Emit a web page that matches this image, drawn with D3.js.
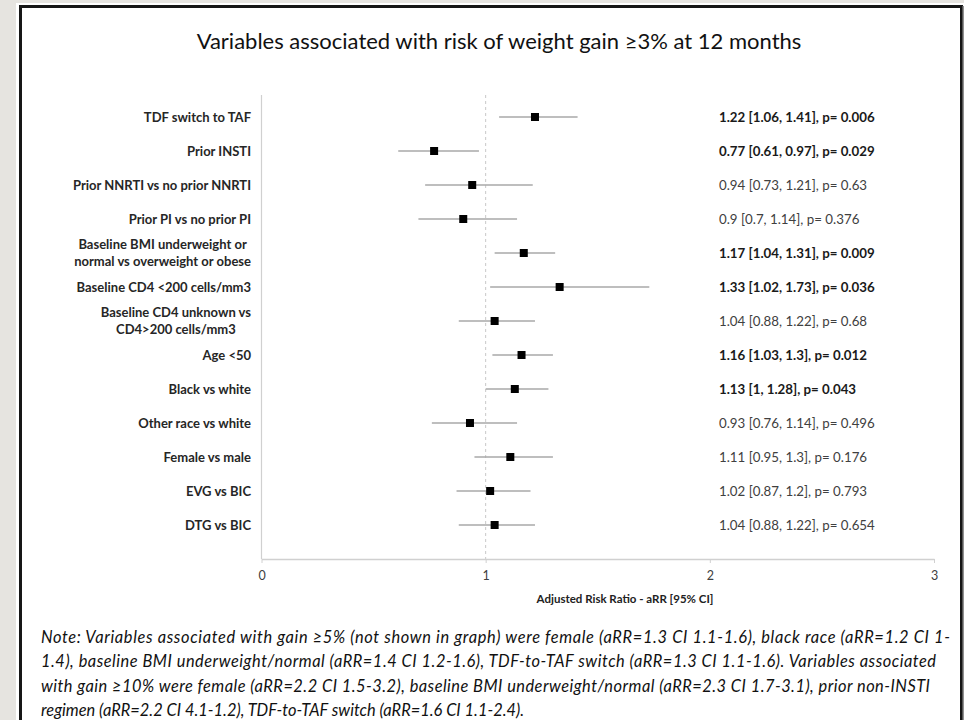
<!DOCTYPE html>
<html>
<head>
<meta charset="utf-8">
<script src="https://cdn.jsdelivr.net/npm/d3@7"></script>
<style>
  html, body { margin: 0; padding: 0; background: #e6e4e0; }
  svg { display: block; }
  text { font-family: Lato, "Liberation Sans", sans-serif; }
</style>
</head>
<body>
<svg id="chart" width="964" height="720"></svg>
<script>
// Forest plot rows, top to bottom ("|" marks a line break in the label)
const labels = [
  "TDF switch to TAF",
  "Prior INSTI",
  "Prior NNRTI vs no prior NNRTI",
  "Prior PI vs no prior PI",
  "Baseline BMI underweight or|normal vs overweight or obese",
  "Baseline CD4 <200 cells/mm3",
  "Baseline CD4 unknown vs|CD4>200 cells/mm3",
  "Age <50",
  "Black vs white",
  "Other race vs white",
  "Female vs male",
  "EVG vs BIC",
  "DTG vs BIC"
];
const estimates = [1.22, 0.77, 0.94, 0.9, 1.17, 1.33, 1.04, 1.16, 1.13, 0.93, 1.11, 1.02, 1.04];
const lower     = [1.06, 0.61, 0.73, 0.7, 1.04, 1.02, 0.88, 1.03, 1,    0.76, 0.95, 0.87, 0.88];
const upper     = [1.41, 0.97, 1.21, 1.14, 1.31, 1.73, 1.22, 1.3, 1.28, 1.14, 1.3,  1.2,  1.22];
const pValues   = [0.006, 0.029, 0.63, 0.376, 0.009, 0.036, 0.68, 0.012, 0.043, 0.496, 0.176, 0.793, 0.654];
const xTicks = [0, 1, 2, 3];

const titleText = "Variables associated with risk of weight gain \u22653% at 12 months";
const axisTitle = "Adjusted Risk Ratio - aRR [95% CI]";
const noteLines = [
  "Note: Variables associated with gain \u22655% (not shown in graph) were female (aRR=1.3 CI 1.1-1.6), black race (aRR=1.2 CI 1-",
  "1.4), baseline BMI underweight/normal (aRR=1.4 CI 1.2-1.6), TDF-to-TAF switch (aRR=1.3 CI 1.1-1.6). Variables associated",
  "with gain \u226510% were female (aRR=2.2 CI 1.5-3.2), baseline BMI underweight/normal (aRR=2.3 CI 1.7-3.1), prior non-INSTI",
  "regimen (aRR=2.2 CI 4.1-1.2), TDF-to-TAF switch (aRR=1.6 CI 1.1-2.4)."
];

const rows = labels.map((l, i) => ({
  label: l, est: estimates[i], lo: lower[i], hi: upper[i], p: pValues[i]
}));

const svg = d3.select("#chart");

// Slide panel with dark frame
svg.append("rect").attr("x", 0).attr("y", 0).attr("width", 964).attr("height", 720).attr("fill", "#e6e4e0");
svg.append("rect").attr("x", 16).attr("y", 3).attr("width", 960).attr("height", 740).attr("fill", "#ffffff");
svg.append("rect").attr("x", 20.5).attr("y", 6.5).attr("width", 941).attr("height", 740)
  .attr("fill", "#ffffff").attr("stroke", "#161616").attr("stroke-width", 3);
svg.append("line").attr("x1", 963).attr("x2", 963).attr("y1", 6).attr("y2", 720)
  .attr("stroke", "#6e6e6e").attr("stroke-width", 1.5);

const x = d3.scaleLinear().domain([0, 3]).range([261.5, 934]);
const y = d3.scalePoint().domain(d3.range(rows.length)).range([117, 525]);
const plotTop = 95, plotBottom = 559;

// Title
svg.append("text").attr("x", 499).attr("y", 49).attr("text-anchor", "middle")
  .attr("font-size", 22).attr("fill", "#111").text(titleText);

// Reference line at aRR = 1
svg.append("line").attr("x1", x(1)).attr("x2", x(1)).attr("y1", plotTop).attr("y2", plotBottom)
  .attr("stroke", "#c8c8c8").attr("stroke-width", 1).attr("stroke-dasharray", "3,3");

// Left axis line
svg.append("line").attr("x1", x(0)).attr("x2", x(0)).attr("y1", plotTop).attr("y2", plotBottom)
  .attr("stroke", "#d0d0d0").attr("stroke-width", 1.2);

// X axis
const xAxis = svg.append("g").attr("transform", `translate(0,${plotBottom})`)
  .call(d3.axisBottom(x).tickValues(xTicks).tickFormat(d3.format("d")).tickSize(4).tickSizeOuter(0));
xAxis.select(".domain").attr("stroke", "#d0d0d0").attr("stroke-width", 1.5);
xAxis.selectAll(".tick line").attr("stroke", "#d0d0d0");
xAxis.selectAll(".tick text").attr("font-size", 12.5).attr("fill", "#404040")
  .attr("font-family", "Lato, sans-serif").attr("dy", "1.1em");

svg.append("text").attr("x", 625).attr("y", 603).attr("text-anchor", "middle")
  .attr("font-size", 11.5).attr("font-weight", "bold").attr("fill", "#222").text(axisTitle);

// Row labels (multi-line labels are centred within their block, block right-aligned)
const labelRight = 251;
rows.forEach((r, i) => {
  const lines = r.label.split("|");
  if (lines.length === 1) {
    svg.append("text").attr("x", labelRight).attr("y", y(i)).attr("dy", "0.35em")
      .attr("text-anchor", "end").attr("font-size", 13).attr("font-weight", "bold")
      .attr("fill", "#262626").text(lines[0]);
  } else {
    const g = svg.append("g");
    const t = lines.map((ln, k) => g.append("text")
      .attr("y", y(i) + (k - (lines.length - 1) / 2) * 17).attr("dy", "0.35em")
      .attr("text-anchor", "middle").attr("font-size", 13).attr("font-weight", "bold")
      .attr("fill", "#262626").text(ln));
    const w = d3.max(t, s => s.node().getComputedTextLength());
    t.forEach(s => s.attr("x", labelRight - w / 2));
  }
});

// Confidence intervals
svg.append("g").selectAll("line").data(rows).join("line")
  .attr("x1", d => x(d.lo)).attr("x2", d => x(d.hi))
  .attr("y1", (d, i) => y(i)).attr("y2", (d, i) => y(i))
  .attr("stroke", "#a8a8a8").attr("stroke-width", 1.5);

// Point estimates
const sq = 8;
svg.append("g").selectAll("rect").data(rows).join("rect")
  .attr("x", d => x(d.est) - sq / 2).attr("y", (d, i) => y(i) - sq / 2)
  .attr("width", sq).attr("height", sq).attr("fill", "#000");

// Value annotations, bold when p < 0.05
svg.append("g").selectAll("text").data(rows).join("text")
  .attr("x", 719).attr("y", (d, i) => y(i)).attr("dy", "0.35em")
  .attr("font-size", 13.3)
  .attr("font-weight", d => d.p < 0.05 ? "bold" : "normal")
  .attr("fill", d => d.p < 0.05 ? "#1a1a1a" : "#404040")
  .text(d => `${d.est} [${d.lo}, ${d.hi}], p= ${d.p}`);

// Footnote: slightly tracked italic text so each line spans the panel width
const noteWidths = [909, 895, 889, null];
svg.append("g").selectAll("text").data(noteLines).join("text")
  .attr("x", 41).attr("y", (d, i) => 643 + i * 24.4)
  .attr("font-size", 16.4).attr("font-style", "italic").attr("fill", "#111")
  .each(function(d, i) {
    if (noteWidths[i]) d3.select(this).attr("textLength", noteWidths[i]).attr("lengthAdjust", "spacing");
  })
  .text(d => d);
</script>
</body>
</html>
